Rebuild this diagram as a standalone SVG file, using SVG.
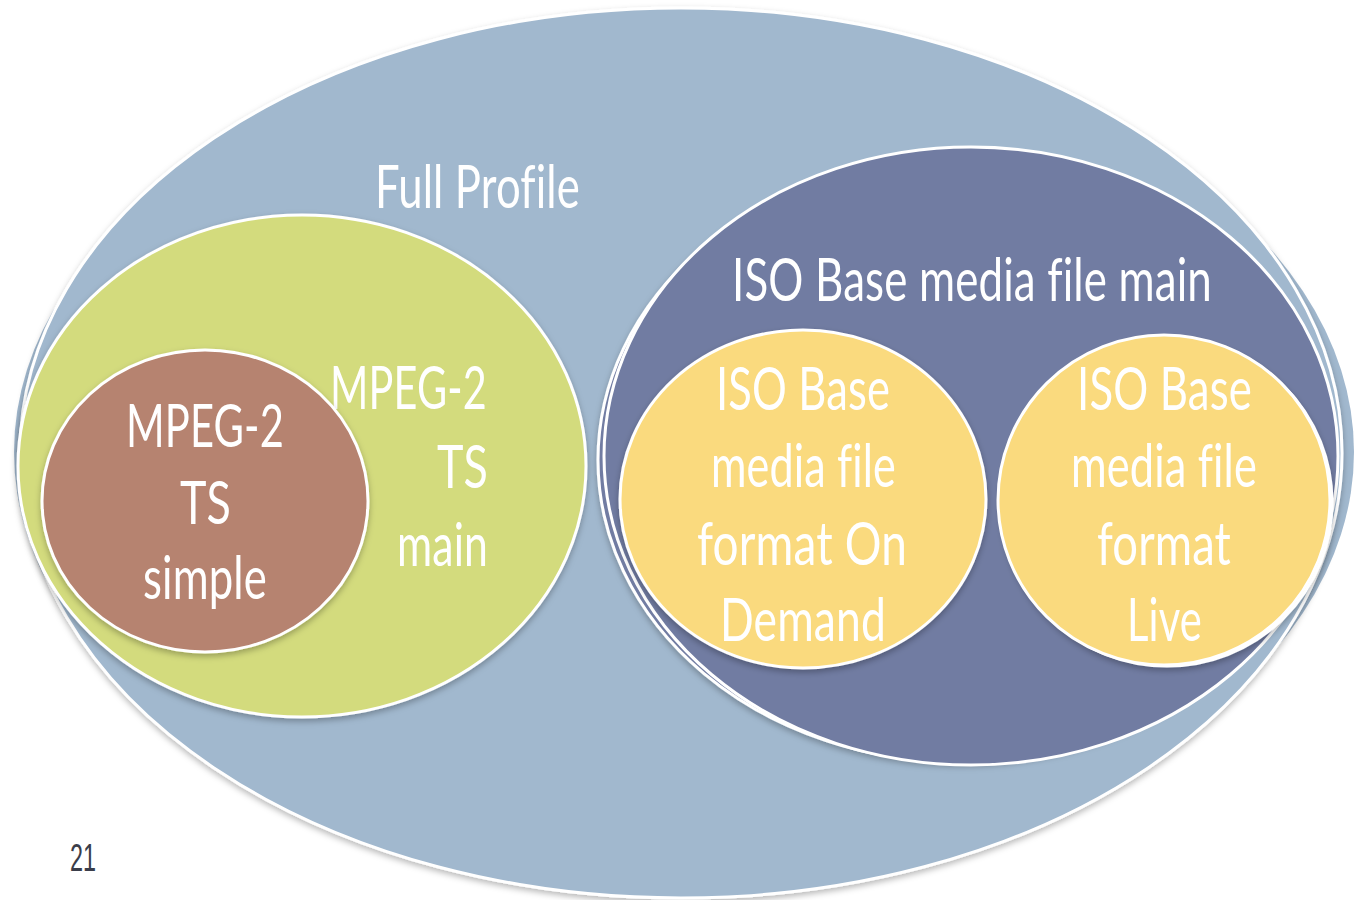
<svg xmlns="http://www.w3.org/2000/svg" width="1363" height="900" viewBox="0 0 1363 900">
  <defs>
    <filter id="sh" x="-10%" y="-10%" width="120%" height="125%">
      <feDropShadow dx="0" dy="3" stdDeviation="3" flood-color="#000" flood-opacity="0.28"/>
    </filter>
  </defs>
  <style>
    .lbl { font-family: "Lato", "Open Sans", "Liberation Sans", sans-serif; font-size: 60px; fill: #ffffff; font-variant-ligatures: none; font-feature-settings: "liga" 0; letter-spacing: 0.2px; }
    .edge { stroke: #ffffff; stroke-width: 3; }
    .blue { fill: #A1B8CE; }
    .green { fill: #D3DB7D; }
    .brown { fill: #B68370; }
    .purple { fill: #717CA2; }
    .yellow { fill: #FADA7E; }
    .num { font-family: "Liberation Sans", Arial, sans-serif; font-size: 38px; fill: #3a3d4a; }
  </style>
  <rect width="1363" height="900" fill="#ffffff"/>

  <g id="full-profile">
    <ellipse class="blue" cx="684" cy="452" rx="670" ry="420"/>
    <ellipse class="blue edge" cx="681" cy="453" rx="661" ry="445" filter="url(#sh)"/>
    <text class="lbl" x="375" y="208" textLength="205" lengthAdjust="spacingAndGlyphs">Full Profile</text>
  </g>

  <g id="mpeg2-ts-main">
    <ellipse class="green edge" cx="302" cy="466" rx="284" ry="251" filter="url(#sh)"/>
    <text class="lbl" x="330" y="409" textLength="157" lengthAdjust="spacingAndGlyphs">MPEG-2</text>
    <text class="lbl" x="437" y="488" textLength="51" lengthAdjust="spacingAndGlyphs">TS</text>
    <text class="lbl" x="397" y="566" textLength="91" lengthAdjust="spacingAndGlyphs">main</text>
  </g>

  <g id="mpeg2-ts-simple">
    <ellipse class="brown edge" cx="205" cy="501" rx="163" ry="151" filter="url(#sh)"/>
    <text class="lbl" x="126" y="447" textLength="158" lengthAdjust="spacingAndGlyphs">MPEG-2</text>
    <text class="lbl" x="180" y="524" textLength="51" lengthAdjust="spacingAndGlyphs">TS</text>
    <text class="lbl" x="143" y="599" textLength="124" lengthAdjust="spacingAndGlyphs">simple</text>
  </g>

  <g id="iso-base-main">
    <ellipse class="purple edge" cx="960" cy="460" rx="362" ry="302" filter="url(#sh)"/>
    <ellipse class="purple edge" cx="971" cy="456" rx="367" ry="309"/>
    <text class="lbl" transform="translate(732,301) scale(0.75,1)" x="0" y="0" textLength="640" lengthAdjust="spacingAndGlyphs">ISO Base media file main</text>
  </g>

  <g id="iso-on-demand">
    <ellipse class="yellow edge" cx="803" cy="499" rx="183" ry="169" filter="url(#sh)"/>
    <text class="lbl" x="716" y="410" textLength="174" lengthAdjust="spacingAndGlyphs">ISO Base</text>
    <text class="lbl" x="711" y="487" textLength="185" lengthAdjust="spacingAndGlyphs">media file</text>
    <text class="lbl" x="697" y="565" textLength="210" lengthAdjust="spacingAndGlyphs">format On</text>
    <text class="lbl" x="720" y="641" textLength="166" lengthAdjust="spacingAndGlyphs">Demand</text>
  </g>

  <g id="iso-live">
    <ellipse class="yellow edge" cx="1167" cy="502" rx="165" ry="164" filter="url(#sh)"/>
    <ellipse class="yellow edge" cx="1164" cy="500" rx="166" ry="165"/>
    <text class="lbl" x="1077" y="410" textLength="175" lengthAdjust="spacingAndGlyphs">ISO Base</text>
    <text class="lbl" x="1071" y="487" textLength="186" lengthAdjust="spacingAndGlyphs">media file</text>
    <text class="lbl" x="1097" y="565" textLength="134" lengthAdjust="spacingAndGlyphs">format</text>
    <text class="lbl" x="1127" y="641" textLength="75" lengthAdjust="spacingAndGlyphs">Live</text>
  </g>

  <g id="connectors"/>

  <g id="page-number">
    <text class="num" x="70" y="871" textLength="26" lengthAdjust="spacingAndGlyphs">21</text>
  </g>
</svg>
